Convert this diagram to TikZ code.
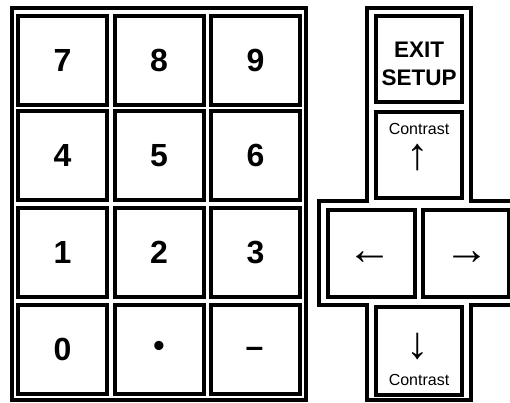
\documentclass[tikz,border=0pt]{standalone}
\usepackage{fontspec}
\setmainfont{Liberation Sans}
\begin{document}
\begin{tikzpicture}[x=1pt,y=-1pt,
  keybox/.style={draw=black,line width=4pt,fill=white,inner sep=0pt,
    minimum width=89pt,minimum height=89pt,
    font=\fontsize{32}{32}\selectfont\bfseries},
  sidekey/.style={keybox,minimum width=86pt,minimum height=86pt},
  frameline/.style={draw=black,line width=4pt},
  smalltxt/.style={inner sep=0pt,font=\fontsize{16}{16}\selectfont},
  arrowtxt/.style={inner sep=0pt,font=\fontsize{45}{45}\selectfont}]
\useasboundingbox (0,0) rectangle (510,402);
% left keypad frame
\draw[frameline] (12,8) rectangle (306,399.5);
\node[keybox] (k7) at (62.5,60) {7};
\node[keybox] (k8) at (159,60) {8};
\node[keybox] (k9) at (255.5,60) {9};
\node[keybox] (k4) at (62.5,155.5) {4};
\node[keybox] (k5) at (159,155.5) {5};
\node[keybox] (k6) at (255.5,155.5) {6};
\node[keybox] (k1) at (62.5,252.5) {1};
\node[keybox] (k2) at (159,252.5) {2};
\node[keybox] (k3) at (255.5,252.5) {3};
\node[keybox] (k0) at (62.5,349) {0};
\node[keybox] (kdot) at (159,349) {•};
\node[keybox] (kminus) at (255.5,349) {};
\node[inner sep=0pt,font=\fontsize{32}{32}\selectfont\bfseries] (minustxt) at (254.5,352) {–};
% right cluster frame
\draw[frameline] (367,8) -- (471,8) -- (471,201) -- (525,201) -- (525,305)
  -- (470.5,305) -- (470.5,399.5) -- (367,399.5) -- (367,305) -- (319,305)
  -- (319,201) -- (367,201) -- cycle;
\node[sidekey] (exit) at (419,59) {};
\node[inner sep=0pt,align=center,font=\fontsize{22.5}{28}\selectfont\bfseries]
  (exittxt) at (419,64) {EXIT\\SETUP};
\node[sidekey] (up) at (419,155) {};
\node[smalltxt,anchor=base] (uptxt) at (419,134) {Contrast};
\node[arrowtxt] (uparr) at (418,157.5) {↑};
\node[sidekey,minimum width=87pt,minimum height=87pt] (left) at (371.5,253) {};
\node[arrowtxt] (leftarr) at (370,258) {←};
\node[sidekey,minimum height=87pt] (right) at (466,253) {};
\node[arrowtxt] (rightarr) at (467,258) {→};
\node[sidekey,minimum height=88pt] (down) at (419,351) {};
\node[arrowtxt] (downarr) at (418,347) {↓};
\node[smalltxt,anchor=base] (downtxt) at (419,385) {Contrast};
\end{tikzpicture}
\end{document}
